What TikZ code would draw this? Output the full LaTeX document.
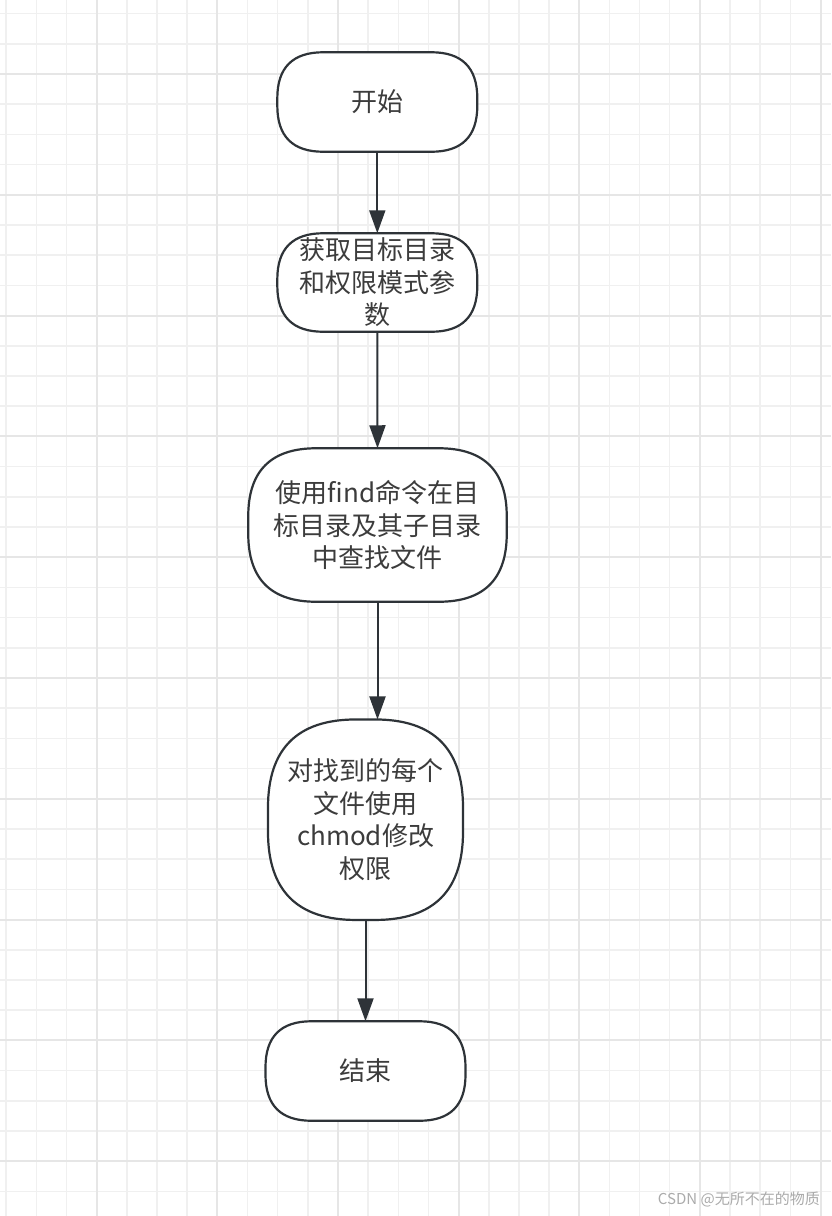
\documentclass[tikz,border=0pt]{standalone}
\usepackage{fontspec}
\newfontfamily\cjk{Noto Sans CJK SC}
\usetikzlibrary{arrows.meta,calc}
\definecolor{minorgrid}{HTML}{F0F0F0}
\definecolor{majorgrid}{HTML}{E6E6E6}
\definecolor{lineclr}{HTML}{2E3338}
\definecolor{txtclr}{HTML}{3C3C3C}
\definecolor{wmclr}{HTML}{ABABAB}
\pgfdeclarelayer{gridlayer}
\pgfdeclarelayer{shapelayer}
\pgfsetlayers{gridlayer,shapelayer,main}
\tikzset{
  gridminor/.style={draw=minorgrid, line width=1.5pt},
  gridmajor/.style={draw=majorgrid, line width=2pt},
  flowbox/.style={rectangle, inner sep=0pt, outer sep=0pt, align=center,
    text=txtclr, font=\cjk\fontsize{26}{32.5}\selectfont},
  boxline/.style={draw=lineclr, fill=white, line width=2.2pt, line join=round},
  flowarrow/.style={draw=lineclr, line width=2pt,
    -{Triangle[length=23pt,width=16pt]}},
}
% outline with quadratic-style corners around node #1, corner size #2
\newcommand\qroundbox[2]{%
  \begin{pgfonlayer}{shapelayer}
  \path[boxline]
    ($(#1.north west)+(#2,0)$) -- ($(#1.north east)+(-#2,0)$)
    .. controls ($(#1.north east)+(-#2/3,0)$) and ($(#1.north east)+(0,#2/3)$) ..
    ($(#1.north east)+(0,#2)$) -- ($(#1.south east)+(0,-#2)$)
    .. controls ($(#1.south east)+(0,-#2/3)$) and ($(#1.south east)+(-#2/3,0)$) ..
    ($(#1.south east)+(-#2,0)$) -- ($(#1.south west)+(#2,0)$)
    .. controls ($(#1.south west)+(#2/3,0)$) and ($(#1.south west)+(0,-#2/3)$) ..
    ($(#1.south west)+(0,-#2)$) -- ($(#1.north west)+(0,#2)$)
    .. controls ($(#1.north west)+(0,#2/3)$) and ($(#1.north west)+(#2/3,0)$) ..
    cycle;
  \end{pgfonlayer}}
\begin{document}
\begin{tikzpicture}[x=1pt,y=-1pt]
\useasboundingbox (0,0) rectangle (831,1216);
\begin{pgfonlayer}{gridlayer}
\fill[white] (0,0) rectangle (831,1216);
\foreach \k in {0,...,27} \draw[gridminor] ({6.2+30.16*\k},0) -- ({6.2+30.16*\k},1216);
\foreach \k in {0,...,39} \draw[gridminor] (0,{13.6+30.2*\k}) -- (831,{13.6+30.2*\k});
\foreach \k in {0,...,6} \draw[gridmajor] ({96.7+120.65*\k},0) -- ({96.7+120.65*\k},1216);
\foreach \k in {0,...,9} \draw[gridmajor] (0,{74+120.8*\k}) -- (831,{74+120.8*\k});
\end{pgfonlayer}
% nodes
\node[flowbox, minimum width=200pt, minimum height=99.5pt]
  (start) at (377.3,102) {开始};
\node[flowbox, minimum width=200pt, minimum height=98.5pt]
  (params) at (377.3,282.5) {获取目标目录\\和权限模式参\\数};
\node[flowbox, minimum width=258.5pt, minimum height=153.5pt]
  (find) at (377.5,525) {使用find命令在目\\标目录及其子目录\\中查找文件};
\node[flowbox, minimum width=195pt, minimum height=200.5pt]
  (chmod) at (365.5,819.7) {对找到的每个\\文件使用\\chmod修改\\权限};
\node[flowbox, minimum width=200pt, minimum height=99.5pt]
  (end) at (365.5,1071) {结束};
\qroundbox{start}{46}
\qroundbox{params}{46}
\qroundbox{find}{68}
\qroundbox{chmod}{88}
\qroundbox{end}{46}
% arrows
\draw[flowarrow] (start.south) -- (params.north);
\draw[flowarrow] (params.south) -- (find.north);
\draw[flowarrow] (find.south) -- (find.south |- chmod.north);
\draw[flowarrow] (chmod.south) -- (chmod.south |- end.north);
% watermark
\node[anchor=east, inner sep=0pt, text=wmclr, font=\cjk\fontsize{15}{18}\selectfont]
  (wm) at (820,1199) {CSDN @无所不在的物质};
\end{tikzpicture}
\end{document}
